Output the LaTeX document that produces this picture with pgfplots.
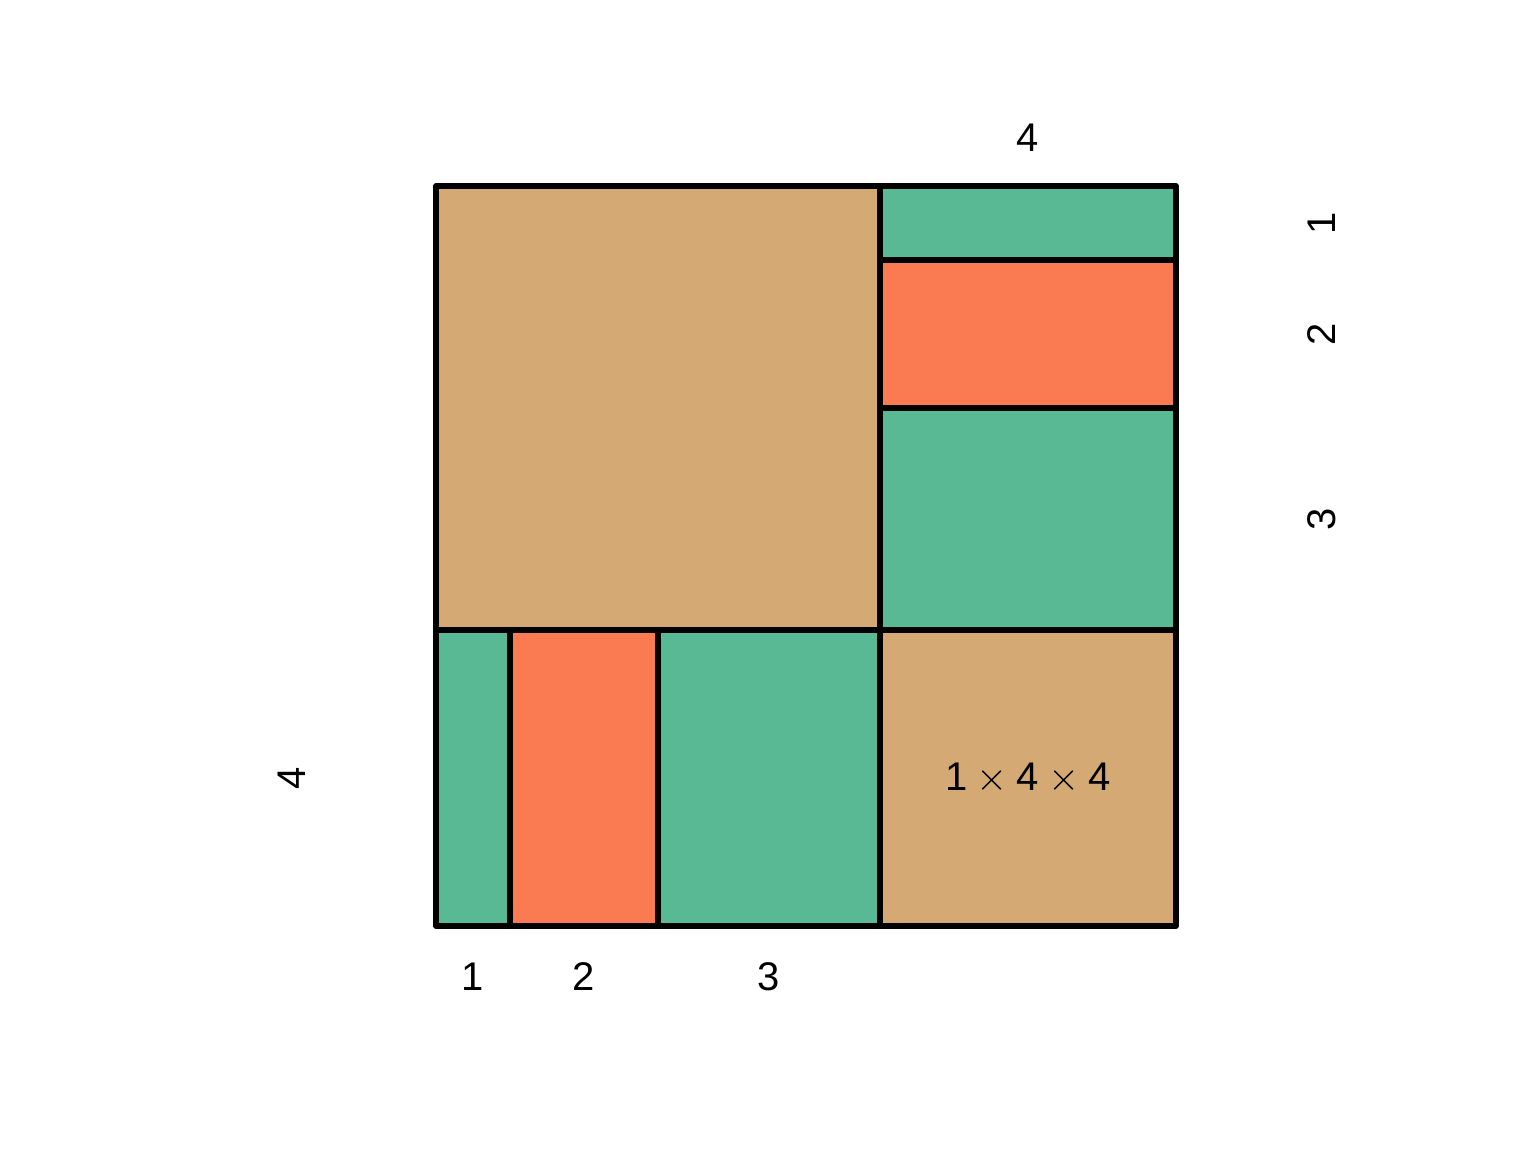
\documentclass[border=0pt]{standalone}
\usepackage{pgfplots}
\pgfplotsset{compat=1.18}
\usepackage{fontspec}
\setmainfont{Liberation Sans}
\definecolor{gr}{HTML}{58B994}
\definecolor{og}{HTML}{FA7A52}
\definecolor{tn}{HTML}{D5A974}
\begin{document}
\begin{tikzpicture}
\path[use as bounding box] (0,0) rectangle (384pt,288pt);
\begin{axis}[at={(109pt,56.5pt)},anchor=south west,scale only axis,
 width=185pt,height=185pt,xmin=0,xmax=10,ymin=0,ymax=10,
 axis lines=none,clip=false,
 every node/.style={font=\fontsize{7.5}{9}\selectfont}]
\pgfplotsset{r/.style={draw=black,line width=1.3pt,line join=round}}
\addplot[r,fill=gr] coordinates {(0,0)(1,0)(1,4)(0,4)} -- cycle;
\addplot[r,fill=og] coordinates {(1,0)(3,0)(3,4)(1,4)} -- cycle;
\addplot[r,fill=gr] coordinates {(3,0)(6,0)(6,4)(3,4)} -- cycle;
\addplot[r,fill=tn] coordinates {(6,0)(10,0)(10,4)(6,4)} -- cycle;
\addplot[r,fill=tn] coordinates {(0,4)(6,4)(6,10)(0,10)} -- cycle;
\addplot[r,fill=gr] coordinates {(6,4)(10,4)(10,7)(6,7)} -- cycle;
\addplot[r,fill=og] coordinates {(6,7)(10,7)(10,9)(6,9)} -- cycle;
\addplot[r,fill=gr] coordinates {(6,9)(10,9)(10,10)(6,10)} -- cycle;
\node at (axis cs:8,2) {1${}\times{}$4${}\times{}$4};
\node at (axis cs:8,10.65) {4};
\node[rotate=90] at (axis cs:11.97,9.5) {1};
\node[rotate=90] at (axis cs:11.97,8.0) {2};
\node[rotate=90] at (axis cs:11.97,5.5) {3};
\node[rotate=90] at (axis cs:-1.95,2) {4};
\node at (axis cs:0.5,-0.68) {1};
\node at (axis cs:2,-0.68) {2};
\node at (axis cs:4.5,-0.68) {3};
\end{axis}
\end{tikzpicture}
\end{document}
